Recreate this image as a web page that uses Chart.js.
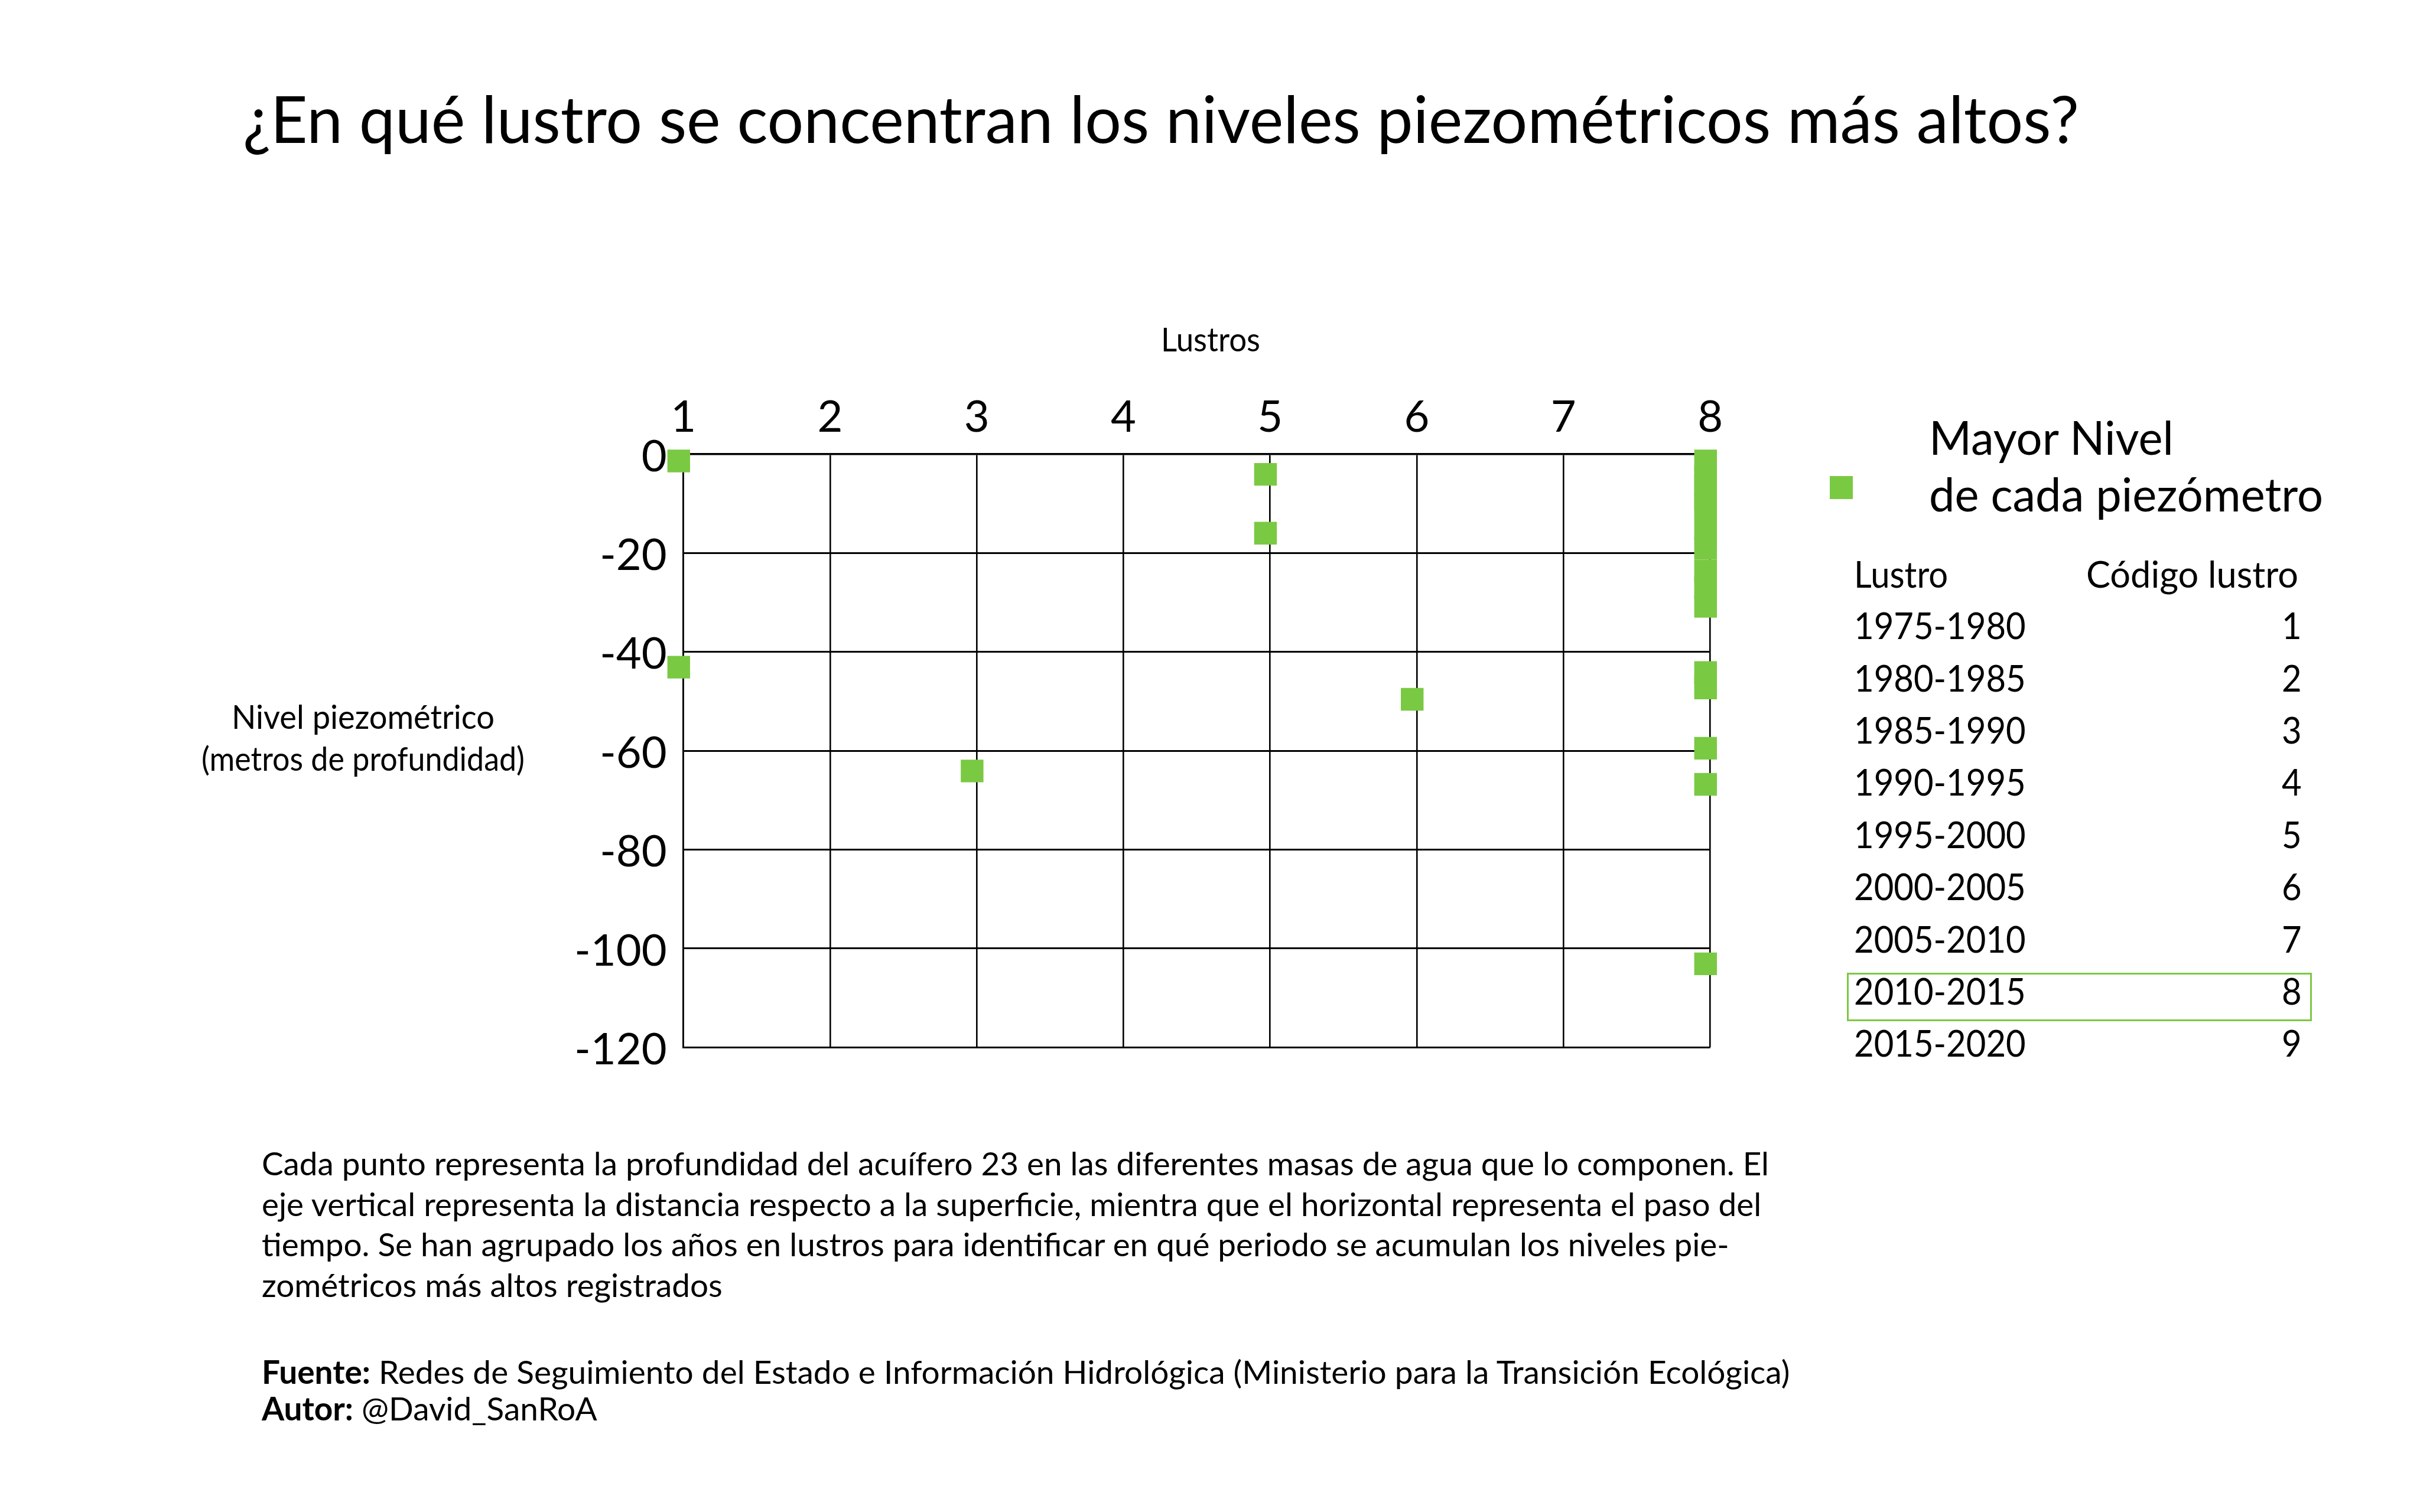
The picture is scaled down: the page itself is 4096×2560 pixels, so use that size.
<!DOCTYPE html>
<html>
<head>
<meta charset="utf-8">
<script src="https://cdn.jsdelivr.net/npm/chart.js@4.4.0/dist/chart.umd.min.js"></script>
<style>
html,body{margin:0;padding:0;background:#fff;}
body{width:4096px;height:2560px;position:relative;overflow:hidden;}
#c{position:absolute;left:0;top:0;}
.t{position:absolute;white-space:pre;color:#000;transform-origin:0 0;margin:0;padding:0;}
.sq{position:absolute;background:#7AC943;}
.box{position:absolute;box-sizing:border-box;border:3px solid #7AC943;}
</style>
</head>
<body>
<canvas id="c" width="4096" height="2560"></canvas>
<script>
// ---------------- DATA ----------------
const titulo = '¿En qué lustro se concentran los niveles piezométricos más altos?';
const tituloEjeX = 'Lustros';
const tituloEjeY = ['Nivel piezométrico', '(metros de profundidad)'];
const serieNombre = ['Mayor Nivel', 'de cada piezómetro'];

// lustro code of each piezometer's highest level
const lustroCodigo = [1, 1, 3, 5, 5, 6,
  8, 8, 8, 8, 8, 8, 8, 8, 8, 8, 8, 8, 8, 8, 8];
// highest piezometric level (metres, negative = depth)
const nivelMaximo = [-1.4, -43.1, -64.1, -4.1, -16.0, -49.6,
  -1.4, -4.5, -6.3, -9.1, -10.5, -15.0, -19.0, -23.6, -27.0, -30.8,
  -44.2, -47.3, -59.5, -66.8, -103.1];

const ejeXMin = 1, ejeXMax = 8, ejeXPaso = 1;
const ejeYMin = -120, ejeYMax = 0, ejeYPaso = 20;

const tablaCabecera = ['Lustro', 'Código lustro'];
const tablaLustros = ['1975-1980', '1980-1985', '1985-1990', '1990-1995', '1995-2000',
  '2000-2005', '2005-2010', '2010-2015', '2015-2020'];
const tablaCodigos = ['1', '2', '3', '4', '5', '6', '7', '8', '9'];
const lustroDestacado = 8;

const notaLineas = [
  'Cada punto representa la profundidad del acuífero 23 en las diferentes masas de agua que lo componen. El',
  'eje vertical representa la distancia respecto a la superficie, mientra que el horizontal representa el paso del',
  'tiempo. Se han agrupado los años en lustros para identificar en qué periodo se acumulan los niveles pie-',
  'zométricos más altos registrados'
];
const fuente = ['Fuente:', ' Redes de Seguimiento del Estado e Información Hidrológica (Ministerio para la Transición Ecológica)'];
const autor = ['Autor:', ' @David_SanRoA'];

// ---------------- STYLE / LAYOUT ----------------
const VERDE = '#7AC943';
const FAM = 'Lato';
const area = {left: 1156.6, right: 2894.6, top: 768.8, bottom: 1773.3};
const W = 4096, H = 2560;
const Y_AXIS_W = 250, X_AXIS_H = 150;
const MARK_SHIFT_X = -7.8;

const mctx = document.createElement('canvas').getContext('2d');
function measure(parts, size) {
  let w = 0, asc = 0, desc = 0;
  for (const p of parts) {
    mctx.font = (p.w || 400) + ' ' + size + 'px ' + FAM;
    const m = mctx.measureText(p.t);
    w += m.width;
    asc = Math.max(asc, m.fontBoundingBoxAscent);
    desc = Math.max(desc, m.fontBoundingBoxDescent);
  }
  return {w, asc, desc};
}
function place(parts, o) {
  const size = o.size;
  const m = measure(parts, size);
  const s = o.scale || (o.width ? o.width / m.w : 1);
  const d = document.createElement('div');
  d.className = 't';
  d.style.fontFamily = FAM;
  d.style.fontSize = size + 'px';
  d.style.lineHeight = (m.asc + m.desc) + 'px';
  for (const p of parts) {
    const sp = document.createElement('span');
    sp.textContent = p.t;
    sp.style.fontWeight = p.w || 400;
    d.appendChild(sp);
  }
  let left = o.x;
  if (o.align === 'center') left = o.x - m.w * s / 2;
  else if (o.align === 'right') left = o.x - m.w * s;
  d.style.left = left + 'px';
  d.style.top = (o.y - m.asc) + 'px';
  d.style.transform = 'scaleX(' + s + ')';
  document.body.appendChild(d);
  return s;
}
function scaleFor(text, size, width, weight) {
  return width / measure([{t: text, w: weight}], size).w;
}

// Title
place([{t: titulo}], {x: 411, y: 242, size: 110, width: 3108});
// X axis title
place([{t: tituloEjeX}], {x: 2048.6, y: 595.2, size: 56, width: 168, align: 'center'});
// Y axis title
place([{t: tituloEjeY[0]}], {x: 614.4, y: 1234.2, size: 57, width: 445, align: 'center'});
place([{t: tituloEjeY[1]}], {x: 614.4, y: 1304.8, size: 57, width: 547, align: 'center'});

// Legend
const sq = document.createElement('div');
sq.className = 'sq';
sq.style.left = '3097.3px'; sq.style.top = '806.4px';
sq.style.width = '38.4px'; sq.style.height = '38.4px';
document.body.appendChild(sq);
const sL = scaleFor(serieNombre[1], 80, 667);
place([{t: serieNombre[0]}], {x: 3264.8, y: 769.9, size: 80, scale: sL});
place([{t: serieNombre[1]}], {x: 3264.8, y: 865.5, size: 80, scale: sL});

// Table
const sT = scaleFor(tablaLustros[0], 61, 290.7);
place([{t: tablaCabecera[0]}], {x: 3137.7, y: 995.3, size: 61, scale: sT});
place([{t: tablaCabecera[1]}], {x: 3889.5, y: 995.3, size: 61, width: 359, align: 'right'});
for (let i = 0; i < tablaLustros.length; i++) {
  const yb = 1082.1 + i * 88.41;
  place([{t: tablaLustros[i]}], {x: 3137.7, y: yb, size: 61, scale: sT});
  place([{t: tablaCodigos[i]}], {x: 3895.7, y: yb, size: 61, scale: sT, align: 'right'});
  if (Number(tablaCodigos[i]) === lustroDestacado) {
    const b = document.createElement('div');
    b.className = 'box';
    b.style.left = '3125.5px';
    b.style.top = (yb - 54.2) + 'px';
    b.style.width = '787.3px';
    b.style.height = '82.3px';
    document.body.appendChild(b);
  }
}

// Notes
const sN = scaleFor(notaLineas[0], 55, 2551);
const notaBase = [1990.3, 2058.9, 2127.4, 2196.0];
notaLineas.forEach((l, i) => place([{t: l}], {x: 443.1, y: notaBase[i], size: 55, scale: sN}));
const fParts = [{t: fuente[0], w: 700}, {t: fuente[1]}];
const sF = 2588 / measure(fParts, 55).w;
place(fParts, {x: 443.1, y: 2343, size: 55, scale: sF});
place([{t: autor[0], w: 700}, {t: autor[1]}], {x: 443.1, y: 2405.4, size: 55, scale: sF});

// ---------------- CHART ----------------
const puntos = lustroCodigo.map((x, i) => ({x: x, y: nivelMaximo[i]}));

const markShift = {
  id: 'markShift',
  beforeDatasetsDraw(chart) { chart.ctx.save(); chart.ctx.translate(MARK_SHIFT_X, 0); },
  afterDatasetsDraw(chart) { chart.ctx.restore(); }
};

new Chart(document.getElementById('c'), {
  type: 'scatter',
  data: {
    datasets: [{
      label: serieNombre.join(' '),
      data: puntos,
      pointStyle: 'rect',
      pointRadius: 38.4 / Math.SQRT2,
      pointHoverRadius: 38.4 / Math.SQRT2,
      backgroundColor: VERDE,
      borderColor: VERDE,
      borderWidth: 0,
      clip: false
    }]
  },
  plugins: [markShift],
  options: {
    responsive: false,
    maintainAspectRatio: false,
    devicePixelRatio: 1,
    animation: false,
    locale: 'en-US',
    layout: {
      padding: {
        left: area.left - Y_AXIS_W,
        top: area.top - X_AXIS_H,
        right: W - area.right,
        bottom: H - area.bottom
      }
    },
    plugins: {
      legend: {display: false},
      tooltip: {enabled: false},
      title: {display: false}
    },
    scales: {
      x: {
        type: 'linear',
        position: 'top',
        min: ejeXMin, max: ejeXMax,
        afterFit: (s) => { s.height = X_AXIS_H; },
        ticks: {stepSize: ejeXPaso, color: '#000', font: {family: FAM, size: 74}, padding: 17, maxRotation: 0, autoSkip: false},
        grid: {color: '#000', lineWidth: 2.6, drawTicks: false},
        border: {display: true, color: '#000', width: 2.6}
      },
      y: {
        type: 'linear',
        position: 'left',
        min: ejeYMin, max: ejeYMax,
        afterFit: (s) => { s.width = Y_AXIS_W; },
        ticks: {stepSize: ejeYPaso, color: '#000', font: {family: FAM, size: 74}, padding: 28, labelOffset: 5},
        grid: {color: '#000', lineWidth: 3, drawTicks: false},
        border: {display: true, color: '#000', width: 2.6}
      }
    }
  }
});
</script>
</body>
</html>
